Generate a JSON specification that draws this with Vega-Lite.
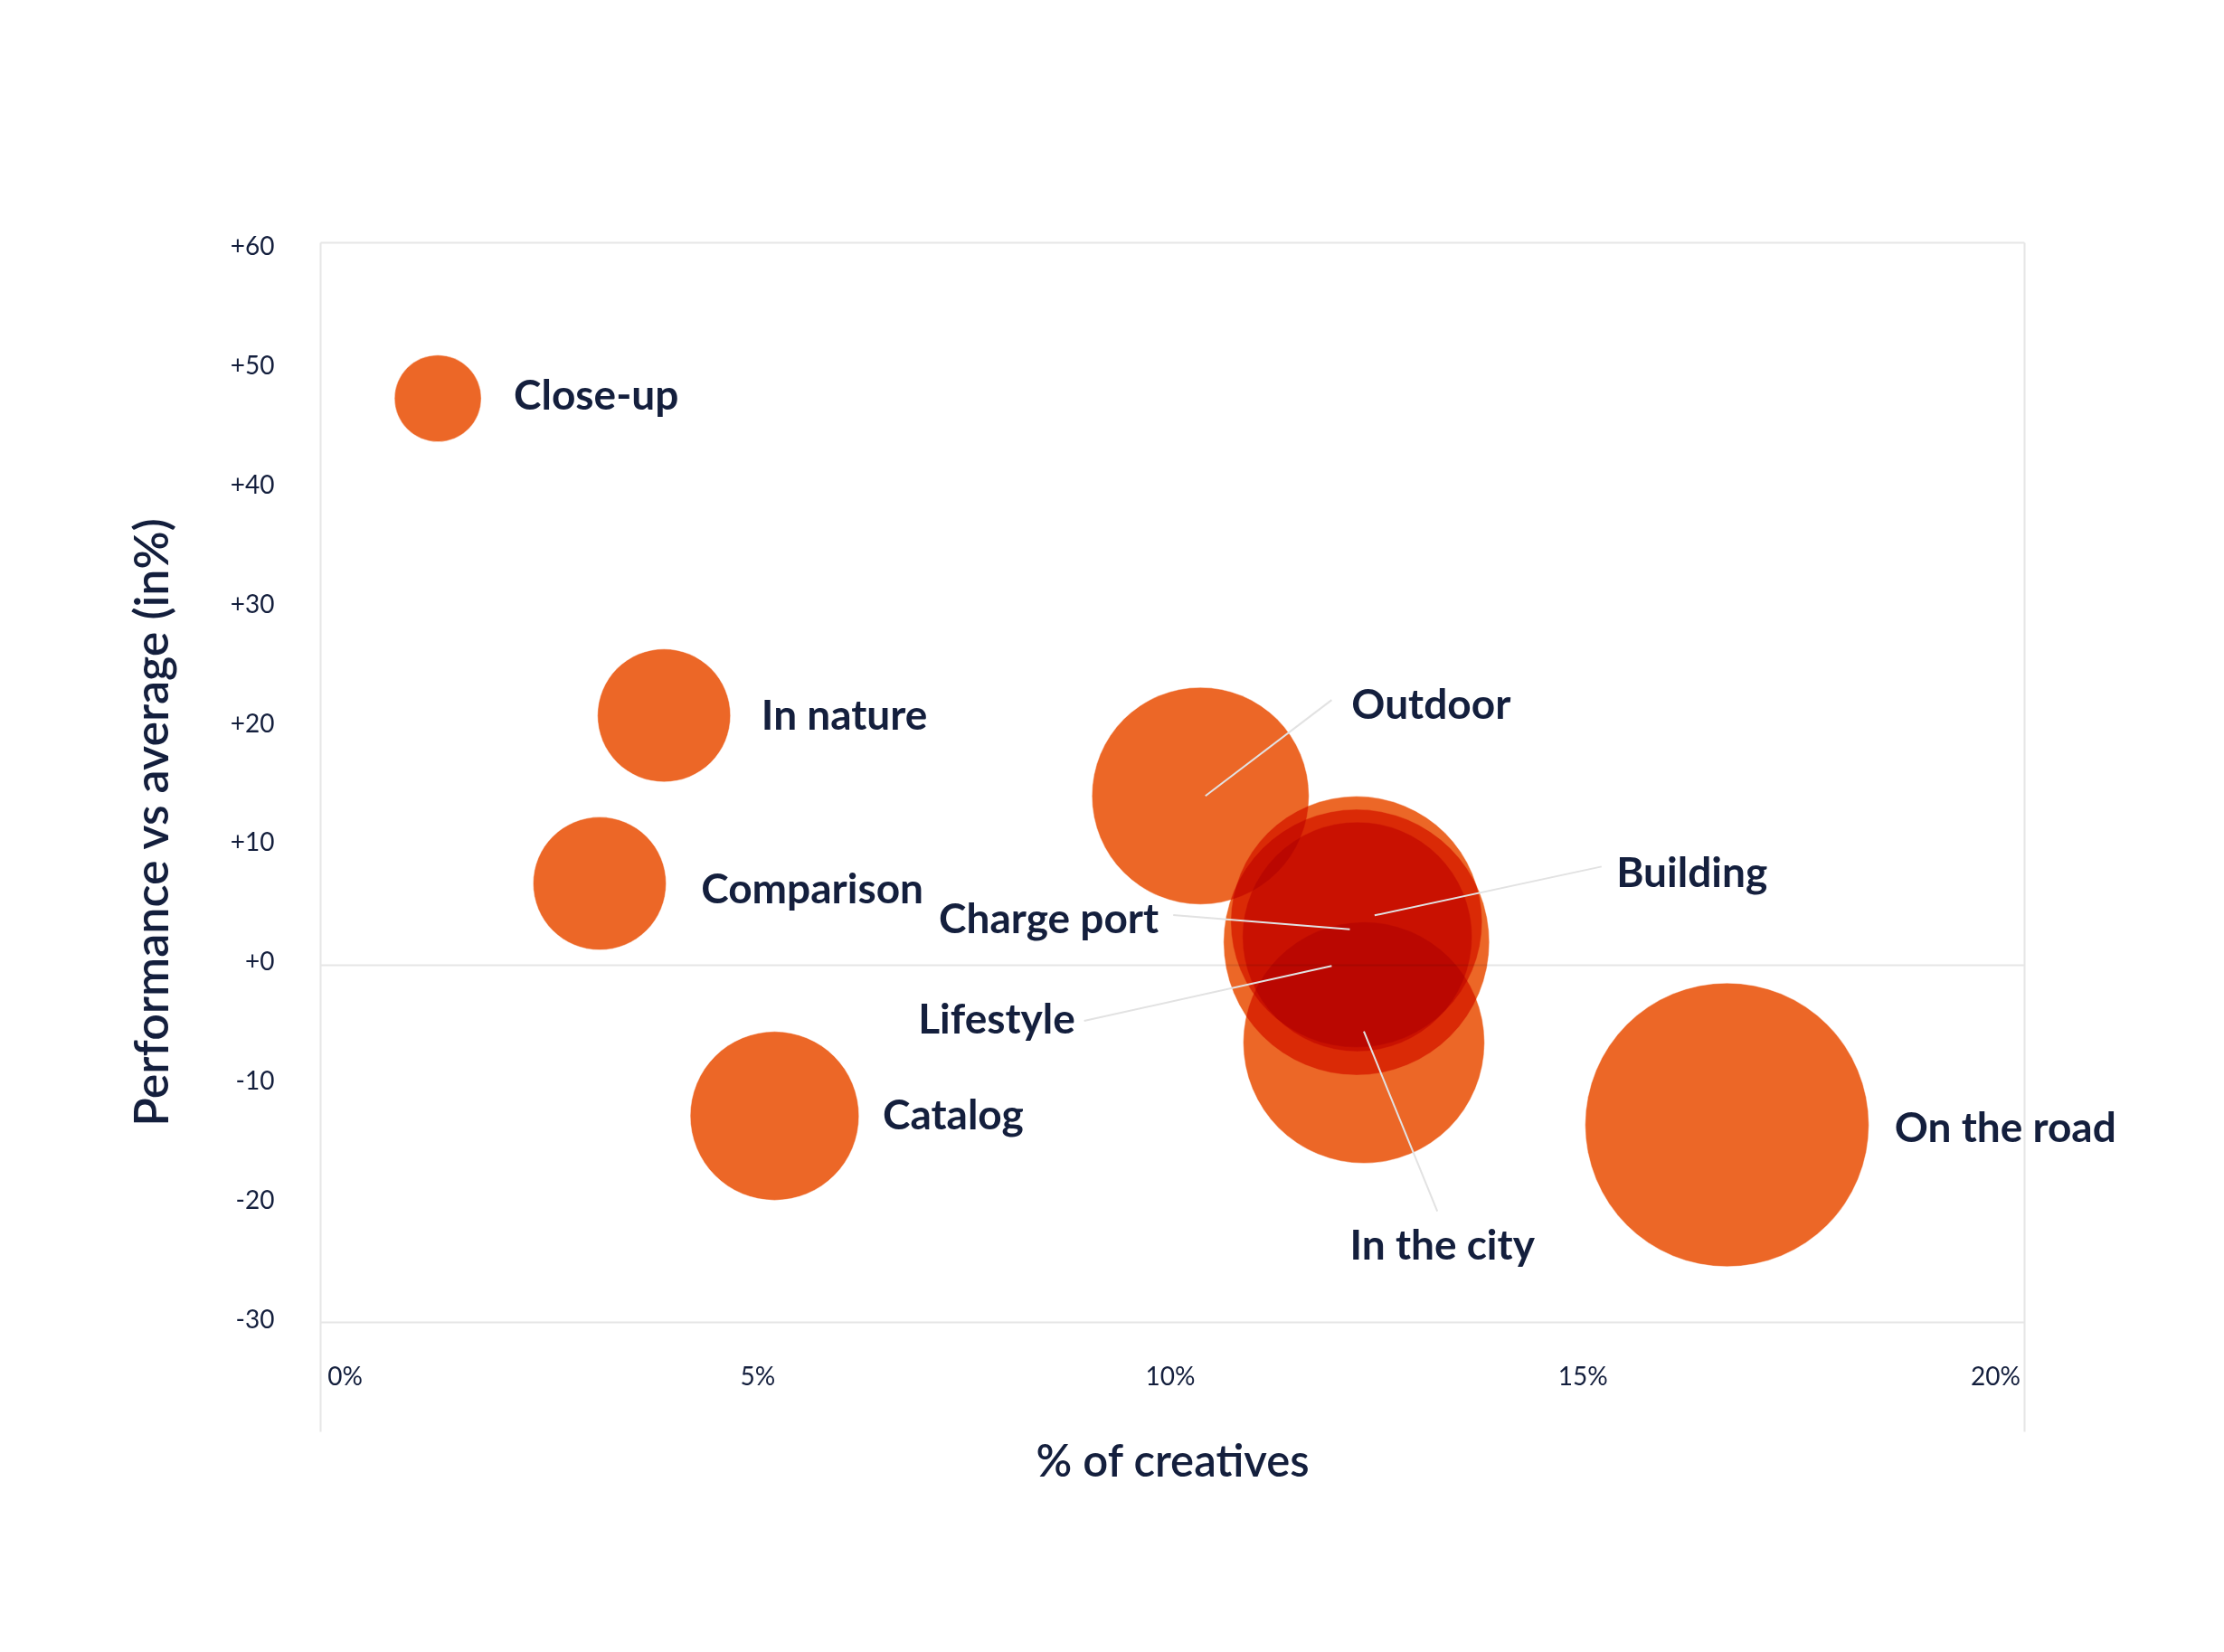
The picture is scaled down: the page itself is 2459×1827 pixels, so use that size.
{
  "$schema": "https://vega.github.io/schema/vega-lite/v6.json",
  "width": 1884,
  "height": 1315,
  "autosize": {"type": "none"},
  "padding": {"left": 354, "top": 268, "right": 221, "bottom": 244},
  "background": "#ffffff",
  "config": {"view": {"stroke": null}, "font": "Lato"},
  "datasets": {
    "bubbles": [
      {"name": "Close-up", "pct": 1.13, "perf": 47.5, "w": 23, "lx": 2.05, "ly": 47.9},
      {"name": "In nature", "pct": 3.87, "perf": 20.9, "w": 54, "lx": 5.05, "ly": 21.1},
      {"name": "Comparison", "pct": 3.09, "perf": 6.8, "w": 54, "lx": 4.32, "ly": 6.5},
      {"name": "Catalog", "pct": 5.21, "perf": -12.7, "w": 87, "lx": 6.52, "ly": -12.5},
      {"name": "Outdoor", "pct": 10.37, "perf": 14.15, "w": 144, "lx": 12.2, "ly": 22.0},
      {"name": "On the road", "pct": 16.75, "perf": -13.45, "w": 246, "lx": 18.78, "ly": -13.5},
      {"name": "Building", "pct": 12.26, "perf": 3.58, "w": 193, "lx": 15.41, "ly": 7.87},
      {"name": "Charge port", "pct": 12.27, "perf": 2.33, "w": 161, "lx": 7.2, "ly": 4.0},
      {"name": "Lifestyle", "pct": 12.26, "perf": 1.87, "w": 216, "lx": 6.95, "ly": -4.42},
      {"name": "In the city", "pct": 12.35, "perf": -6.55, "w": 178, "lx": 12.18, "ly": -23.4}
    ],
    "leaders": [
      {"name": "Outdoor", "x1": 11.96, "y1": 22.2, "x2": 10.43, "y2": 14.15},
      {"name": "Charge port", "x1": 10.04, "y1": 4.15, "x2": 12.18, "y2": 2.96},
      {"name": "Building", "x1": 15.23, "y1": 8.22, "x2": 12.48, "y2": 4.13},
      {"name": "Lifestyle", "x1": 8.96, "y1": -4.73, "x2": 11.96, "y2": -0.12},
      {"name": "In the city", "x1": 13.24, "y1": -20.7, "x2": 12.35, "y2": -5.6}
    ]
  },
  "layer": [
    {
      "data": {"name": "bubbles"},
      "mark": {"type": "circle", "color": "#EC6727", "opacity": 1, "blend": "multiply", "stroke": "#ffffff", "strokeWidth": 1, "strokeOpacity": 0.45},
      "encoding": {
        "x": {
          "field": "pct", "type": "quantitative",
          "scale": {"domain": [-0.296, 20.35], "nice": false, "zero": false},
          "axis": {
            "orient": "bottom", "values": [0, 5, 10, 15, 20],
            "labelExpr": "datum.value + '%'",
            "offset": -79, "domain": false, "ticks": false, "tickSize": 0, "grid": false,
            "labelFont": "Lato", "labelFontSize": 28, "labelColor": "#141F3D", "labelPadding": 5,
            "labelBaseline": "top", "labelFlush": false, "labelOverlap": false,
            "title": "% of creatives", "titleFont": "Lato", "titleFontSize": 49, "titleFontWeight": 600,
            "titleColor": "#141F3D", "titlePadding": 56
          }
        },
        "y": {
          "field": "perf", "type": "quantitative",
          "scale": {"domain": [-39.17, 60.6], "nice": false, "zero": false},
          "axis": {
            "orient": "left", "values": [-30, -20, -10, 0, 10, 20, 30, 40, 50, 60],
            "labelExpr": "datum.value > 0 ? '+' + datum.value : (datum.value == 0 ? '+0' : '-' + abs(datum.value))",
            "labelFont": "Lato", "labelFontSize": 28, "labelColor": "#141F3D", "labelPadding": 51,
            "labelOffset": -2, "labelFlush": false, "labelOverlap": false,
            "ticks": false, "domain": true, "domainColor": "#E6E6E6", "domainWidth": 2,
            "grid": true, "gridColor": "#E6E6E6", "gridWidth": 2,
            "gridOpacity": {"condition": {"test": "datum.value === 0 || datum.value === -30", "value": 1}, "value": 0},
            "title": "Performance vs average (in%)", "titleFont": "Lato", "titleFontSize": 52, "titleFontWeight": 600,
            "titleColor": "#141F3D", "titlePadding": 58, "titleY": 641
          }
        },
        "size": {
          "field": "w", "type": "quantitative",
          "scale": {"type": "linear", "domain": [0, 250], "range": [0, 100000], "zero": true},
          "legend": null
        }
      }
    },
    {
      "data": {"name": "leaders"},
      "mark": {"type": "rule", "color": "#E2E2E2", "strokeWidth": 2},
      "encoding": {
        "x": {"field": "x1", "type": "quantitative",
          "axis": {"orient": "top", "domain": true, "domainColor": "#E6E6E6", "domainWidth": 2, "labels": false, "ticks": false, "grid": false, "title": null}},
        "y": {"field": "y1", "type": "quantitative",
          "axis": {"orient": "right", "domain": true, "domainColor": "#E6E6E6", "domainWidth": 2, "labels": false, "ticks": false, "grid": false, "title": null}},
        "x2": {"field": "x2"},
        "y2": {"field": "y2"}
      }
    },
    {
      "data": {"name": "bubbles"},
      "mark": {"type": "text", "align": "left", "baseline": "middle", "dy": 4, "font": "Lato", "fontSize": 46, "fontWeight": "bold", "color": "#141F3D"},
      "encoding": {
        "x": {"field": "lx", "type": "quantitative", "axis": null},
        "y": {"field": "ly", "type": "quantitative", "axis": null},
        "text": {"field": "name"}
      }
    }
  ],
  "resolve": {"axis": {"x": "independent", "y": "independent"}}
}
